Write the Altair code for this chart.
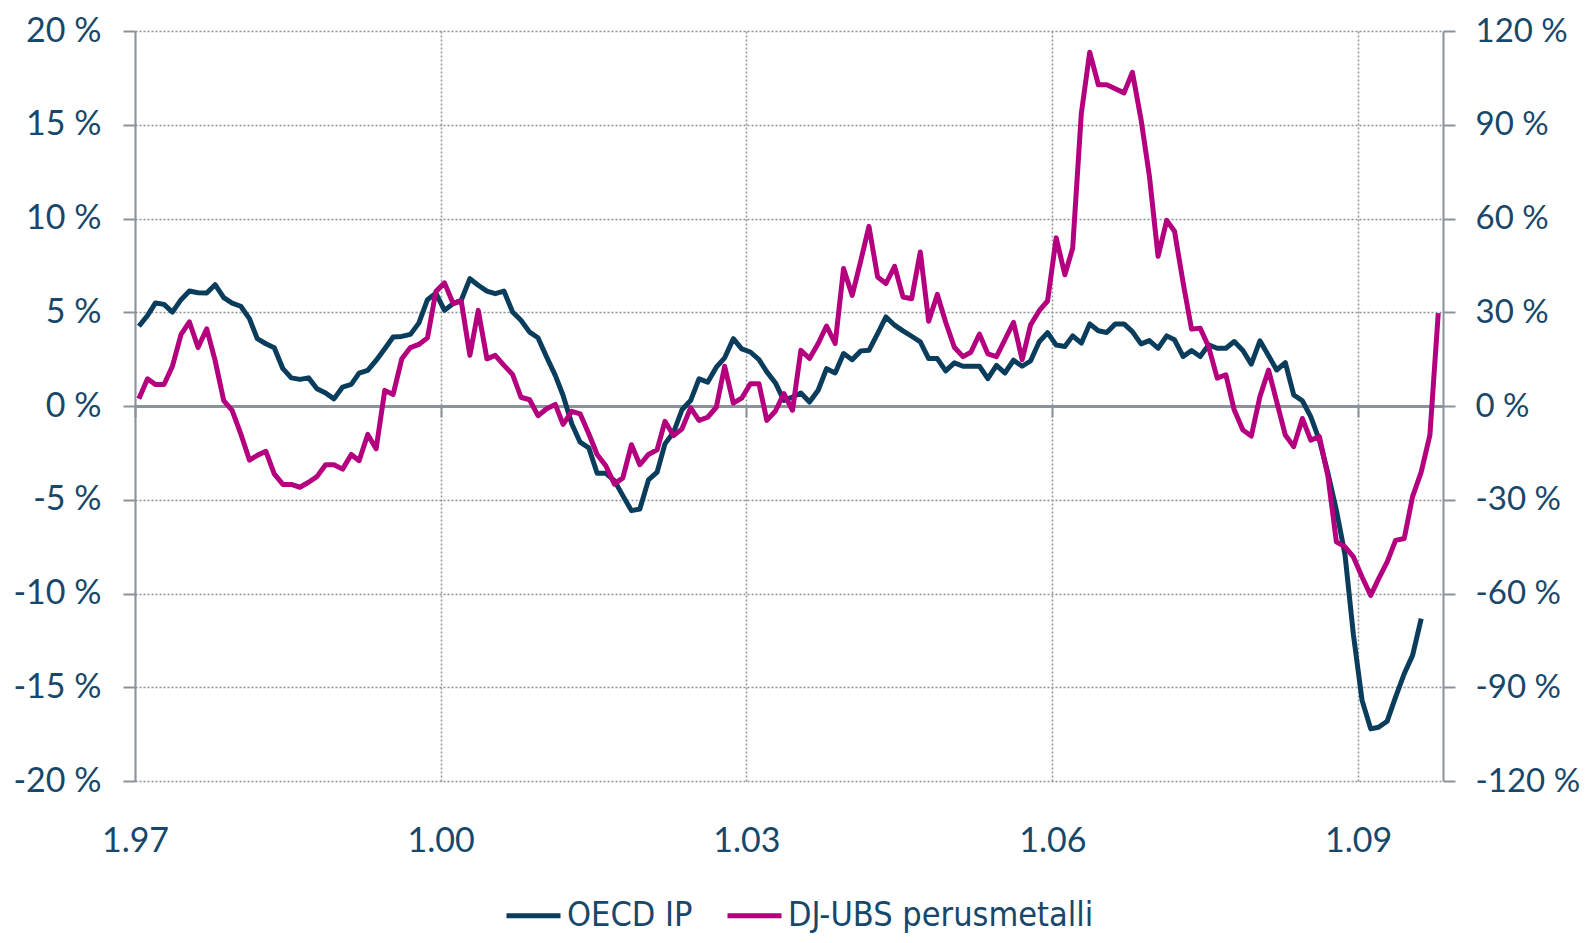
import altair as alt
import pandas as pd

# ---- data (monthly, Jan 1997 ->) ----
series_names = ["OECD IP", "DJ-UBS perusmetalli"]
series_colors = ["#0a3d5c", "#b4007e"]

# OECD industrial production, y/y %, left axis (Jan 1997 - Aug 2009)
oecd_ip = [
    4.25, 4.83, 5.49, 5.42, 5.01, 5.67, 6.13, 6.04, 6.03, 6.47,
    5.78, 5.49, 5.32, 4.66, 3.59, 3.32, 3.11, 1.99, 1.50, 1.42,
    1.50, 0.92, 0.69, 0.38, 1.01, 1.15, 1.75, 1.90, 2.43, 3.05,
    3.68, 3.71, 3.82, 4.42, 5.67, 6.02, 5.10, 5.46, 5.64, 6.79,
    6.44, 6.13, 5.99, 6.13, 5.01, 4.57, 3.94, 3.64, 2.61, 1.63,
    0.56, -0.95, -1.93, -2.23, -3.59, -3.59, -3.98, -4.78, -5.58, -5.49,
    -3.94, -3.53, -2.02, -1.40, -0.20, 0.29, 1.45, 1.27, 2.07, 2.57,
    3.59, 3.05, 2.88, 2.47, 1.82, 1.23, 0.30, 0.48, 0.69, 0.21,
    0.84, 1.99, 1.76, 2.80, 2.47, 2.94, 2.97, 3.86, 4.75, 4.31,
    4.01, 3.72, 3.42, 2.53, 2.53, 1.87, 2.30, 2.12, 2.12, 2.12,
    1.46, 2.17, 1.76, 2.44, 2.12, 2.40, 3.43, 3.91, 3.25, 3.17,
    3.74, 3.35, 4.38, 4.01, 3.92, 4.38, 4.38, 3.97, 3.31, 3.49,
    3.08, 3.74, 3.53, 2.64, 2.96, 2.64, 3.26, 3.08, 3.08, 3.44,
    2.96, 2.23, 3.48, 2.68, 1.92, 2.31, 0.59, 0.28, -0.57, -1.82,
    -3.60, -5.56, -7.95, -12.2, -15.7, -17.22, -17.13, -16.81, -15.53, -14.28,
    -13.30, -11.34,
]

# DJ-UBS industrial metals, y/y %, right axis (Jan 1997 - Oct 2009)
dj_ubs = [
    2.3, 8.7, 6.9, 6.9, 12.7, 22.9, 26.9, 18.7, 24.7, 14.6,
    1.7, -1.4, -8.9, -17.3, -15.8, -14.5, -21.7, -25.1, -25.1, -26.0,
    -24.4, -22.6, -18.8, -18.8, -20.2, -15.5, -17.5, -9.1, -13.7, 5.0,
    3.7, 15.1, 18.7, 19.7, 21.8, 36.6, 39.4, 32.8, 33.6, 16.2,
    30.6, 15.1, 16.2, 13.0, 10.1, 2.8, 2.0, -3.1, -0.9, 0.5,
    -5.9, -1.7, -2.5, -8.9, -15.5, -19.1, -25.0, -23.0, -12.4, -18.8,
    -15.5, -14.0, -4.9, -9.5, -7.3, -0.6, -4.6, -3.6, -0.4, 12.7,
    0.9, 2.5, 7.1, 7.1, -4.6, -1.6, 4.0, -1.4, 17.8, 15.2,
    20.0, 25.6, 20.0, 44.0, 35.4, 46.6, 57.5, 41.3, 39.2, 44.7,
    34.9, 34.3, 49.3, 27.1, 35.7, 26.8, 18.8, 15.8, 17.2, 23.0,
    16.7, 15.8, 21.2, 26.8, 14.8, 25.9, 30.5, 33.6, 53.8, 42.0,
    50.5, 93.6, 113.2, 102.8, 102.8, 101.5, 100.2, 106.8, 91.7, 73.5,
    47.9, 59.4, 55.9, 39.3, 24.6, 24.9, 19.0, 8.9, 10.0, -1.3,
    -7.7, -9.6, 3.0, 11.5, 1.4, -9.3, -13.0, -4.0, -10.9, -9.8,
    -22.6, -43.5, -45.1, -48.3, -54.7, -60.6, -55.3, -49.9, -43.0, -42.4,
    -29.0, -21.1, -9.3, 29.7,
]

start_year = 1997
x_tick_years = [1997, 2000, 2003, 2006, 2009]
left_ticks = [-20, -15, -10, -5, 0, 5, 10, 15, 20]
right_ticks = [-120, -90, -60, -30, 0, 30, 60, 90, 120]


def month_date(i):
    return f"{start_year + i // 12}-{i % 12 + 1:02d}-15"


df_ip = pd.DataFrame({
    "date": [month_date(i) for i in range(len(oecd_ip))],
    "value": oecd_ip,
    "series": series_names[0],
})
df_met = pd.DataFrame({
    "date": [month_date(i) for i in range(len(dj_ubs))],
    "value": dj_ubs,
    "series": series_names[1],
})

GRAY = "#8a929c"
TEXT = "#17486b"
AXIS_FONT = "Lato"
LEG_FONT = "'Liberation Sans Narrow', 'DejaVu Sans Condensed', 'Roboto Condensed', sans-serif"

x_scale = alt.Scale(
    type="utc",
    domain=[alt.DateTime(year=1997, month=1, date=1, utc=True),
            alt.DateTime(year=2009, month=11, date=1, utc=True)],
)
x_values = [alt.DateTime(year=y, month=1, date=1, utc=True) for y in x_tick_years]

x_axis_main = alt.Axis(
    orient="bottom", values=x_values,
    labelExpr="utcFormat(datum.value, '%-m.%y')",
    title=None, domain=False, ticks=False, tickSize=0, labelFlush=False,
    labelFont=AXIS_FONT, labelFontSize=34, labelColor=TEXT, labelPadding=43,
    grid=True, gridColor=GRAY, gridDash=[2, 2], gridWidth=1.5,
)
x_axis_zero = alt.Axis(
    orient="bottom", values=x_values, offset=-375, title=None,
    labels=False, grid=False,
    domain=True, domainColor=GRAY, domainWidth=3,
    ticks=True, tickSize=11, tickWidth=2, tickColor=GRAY,
)

color_scale = alt.Scale(domain=series_names, range=series_colors)
legend = alt.Legend(
    orient="none", legendX=369, legendY=855, direction="horizontal", title=None,
    symbolType="stroke", symbolSize=2916, symbolStrokeWidth=5,
    labelFont=LEG_FONT, labelFontSize=34, labelColor=TEXT, labelLimit=500,
    labelOffset=4, columnPadding=24,
)

ip_line = alt.Chart(df_ip).mark_line(strokeWidth=5, strokeJoin="round").encode(
    x=alt.X("date:T", scale=x_scale, axis=x_axis_main),
    y=alt.Y("value:Q", scale=alt.Scale(domain=[-20, 20], nice=False, zero=False),
            axis=alt.Axis(orient="left", values=left_ticks, labelExpr="datum.value + ' %'",
                          title=None, labelFont=AXIS_FONT, labelFontSize=34,
                          labelColor=TEXT, labelPadding=22,
                          domainColor=GRAY, domainWidth=2,
                          tickSize=12, tickWidth=2, tickColor=GRAY,
                          grid=True, gridColor=GRAY, gridDash=[2, 2], gridWidth=1.5)),
    color=alt.Color("series:N", scale=color_scale, legend=legend),
)

met_line = alt.Chart(df_met).mark_line(strokeWidth=5, strokeJoin="round").encode(
    x=alt.X("date:T", scale=x_scale, axis=x_axis_zero),
    y=alt.Y("value:Q", scale=alt.Scale(domain=[-120, 120], nice=False, zero=False),
            axis=alt.Axis(orient="right", values=right_ticks, labelExpr="datum.value + ' %'",
                          title=None, labelFont=AXIS_FONT, labelFontSize=33,
                          labelColor=TEXT, labelPadding=20,
                          domainColor=GRAY, domainWidth=2,
                          tickSize=12, tickWidth=2, tickColor=GRAY, grid=False)),
    color=alt.Color("series:N", scale=color_scale, legend=legend),
)

chart = (
    alt.layer(ip_line, met_line)
    .resolve_scale(y="independent")
    .resolve_axis(x="independent")
    .properties(
        width=1308, height=750,
        autosize=alt.AutoSizeParams(type="none"),
        padding={"left": 127, "top": 23, "right": 137, "bottom": 154},
        background="white",
    )
    .configure_view(stroke=None)
)

chart.save("out.html", embed_options={"renderer": "svg", "actions": False})
